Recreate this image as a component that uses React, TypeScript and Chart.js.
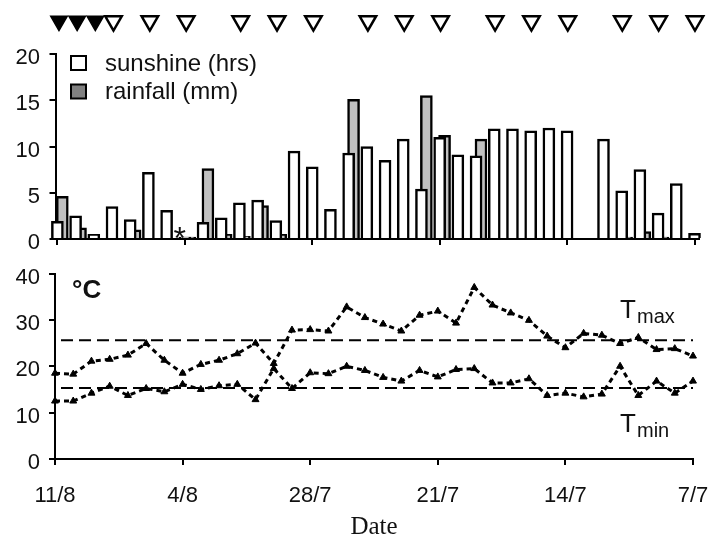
import { useEffect, useRef } from 'react';
import { Chart, registerables } from 'chart.js';

Chart.register(...registerables);

const SANS = '"Liberation Sans", Arial, sans-serif';
const SERIF = '"Liberation Serif", "Times New Roman", serif';

const DATES = [
  '11/8', '10/8', '9/8', '8/8', '7/8', '6/8', '5/8', '4/8', '3/8', '2/8', '1/8',
  '31/7', '30/7', '29/7', '28/7', '27/7', '26/7', '25/7', '24/7', '23/7', '22/7',
  '21/7', '20/7', '19/7', '18/7', '17/7', '16/7', '15/7', '14/7', '13/7', '12/7',
  '11/7', '10/7', '9/7', '8/7', '7/7',
];

const SUNSHINE = [
  1.9, 2.5, 0.5, 3.5, 2.1, 7.2, 3.1, 0.2, 1.8, 2.3, 3.9, 4.2,
  2.0, 9.5, 7.8, 3.2, 9.3, 10.0, 8.5, 10.8, 5.4, 11.0, 9.1, 9.0,
  11.9, 11.9, 11.7, 12.0, 11.7, 0, 10.8, 5.2, 7.5, 2.8, 6.0, 0.6,
];

const RAINFALL = [
  4.6, 1.2, 0, 0, 1.0, 0, 0, 0.2, 7.6, 0.5, 0.3, 3.6,
  0.5, 0, 0, 0, 15.1, 0, 0, 0, 15.5, 11.2, 0, 10.8,
  0, 0, 0, 0, 0, 0, 0, 0.2, 0.8, 0.2, 0, 0,
];

const TMAX = [
  18.5, 18.3, 21.1, 21.5, 22.4, 24.9, 21.3, 18.5, 20.4, 21.3, 22.7, 25.0,
  20.6, 27.8, 27.9, 27.6, 32.8, 30.5, 29.1, 27.6, 31.0, 31.9, 29.3, 37.0,
  33.2, 31.5, 29.9, 26.5, 24.0, 27.1, 26.7, 24.9, 26.2, 23.6, 23.8, 22.2,
];

const TMIN = [
  12.5, 12.5, 14.2, 15.7, 13.7, 15.2, 14.5, 16.1, 15.0, 15.8, 16.1, 12.8,
  19.5, 15.2, 18.6, 18.4, 20.0, 19.1, 17.6, 16.8, 19.1, 17.7, 19.3, 19.5,
  16.4, 16.4, 17.3, 13.7, 14.2, 13.4, 14.0, 20.0, 13.7, 16.8, 14.2, 16.8,
];

const TMAX_MEAN = 25.6;
const TMIN_MEAN = 15.3;

const FILLED_MARK_DAYS = [0, 1, 2];
const OPEN_MARK_DAYS = [3, 5, 7, 10, 12, 14, 17, 19, 21, 24, 26, 28, 31, 33, 35];

const TICK_DAYS = [0, 7, 14, 21, 28, 35];
const SUN_TICKS = [0, 5, 10, 15, 20];
const TEMP_TICKS = [0, 10, 20, 30, 40];
const MISSING_SUN_DAY = 7;

const SUN_LABEL = 'sunshine (hrs)';
const RAIN_LABEL = 'rainfall (mm)';

const axisGrid = {
  drawOnChartArea: false,
  drawTicks: true,
  tickLength: 6,
  color: '#000',
  lineWidth: 2,
};
const axisBorder = { display: true, color: '#000', width: 2 };

const topAnnotations = {
  id: 'topAnnotations',
  afterDraw(chart: any) {
    const ctx = chart.ctx as CanvasRenderingContext2D;
    ctx.save();
    const items = [
      { label: SUN_LABEL, fill: '#ffffff', top: 56 },
      { label: RAIN_LABEL, fill: '#808080', top: 84.5 },
    ];
    ctx.font = `24px ${SANS}`;
    ctx.textBaseline = 'middle';
    ctx.textAlign = 'left';
    for (const it of items) {
      ctx.fillStyle = it.fill;
      ctx.fillRect(71, it.top, 15, 14);
      ctx.strokeStyle = '#000';
      ctx.lineWidth = 2;
      ctx.strokeRect(71, it.top, 15, 14);
      ctx.fillStyle = '#111';
      ctx.fillText(it.label, 105, it.top + 8);
    }
    const x = chart.scales.x.getPixelForValue(MISSING_SUN_DAY);
    const y0 = chart.scales.y.getPixelForValue(0);
    ctx.font = `32px ${SANS}`;
    ctx.textAlign = 'center';
    ctx.textBaseline = 'alphabetic';
    ctx.fillText('*', x - 5, y0 + 10);
    ctx.restore();
  },
};

const bottomAnnotations = {
  id: 'bottomAnnotations',
  afterDraw(chart: any) {
    const ctx = chart.ctx as CanvasRenderingContext2D;
    ctx.save();
    ctx.fillStyle = '#111';
    ctx.textAlign = 'left';
    ctx.textBaseline = 'alphabetic';
    ctx.font = `bold 26px ${SANS}`;
    ctx.fillText('°C', 72, 48);
    ctx.font = `26px ${SANS}`;
    ctx.fillText('T', 620, 68);
    ctx.fillText('T', 620, 182);
    ctx.font = `20px ${SANS}`;
    ctx.fillText('max', 637, 73);
    ctx.fillText('min', 637, 187);
    ctx.restore();
  },
};

export default function App() {
  const markRef = useRef<HTMLCanvasElement>(null);
  const topRef = useRef<HTMLCanvasElement>(null);
  const botRef = useRef<HTMLCanvasElement>(null);

  useEffect(() => {
    const charts: Chart[] = [];

    const markerBase = {
      pointStyle: 'triangle',
      pointRotation: 180,
      pointRadius: 9.5,
      pointBorderColor: '#000',
      showLine: false,
      clip: false,
    };

    charts.push(
      new Chart(markRef.current!, {
        type: 'scatter',
        data: {
          datasets: [
            {
              ...markerBase,
              label: 'filled',
              data: FILLED_MARK_DAYS.map((d) => ({ x: d, y: 0 })),
              pointBackgroundColor: '#000',
              pointBorderWidth: 1.5,
            } as any,
            {
              ...markerBase,
              label: 'open',
              data: OPEN_MARK_DAYS.map((d) => ({ x: d, y: 0 })),
              pointBackgroundColor: '#fff',
              pointBorderWidth: 2.5,
            } as any,
          ],
        },
        options: {
          animation: false,
          responsive: false,
          events: [],
          layout: { padding: { left: 59, right: 14, top: 0, bottom: 0 } },
          plugins: { legend: { display: false }, tooltip: { enabled: false } },
          scales: {
            x: { type: 'linear', display: false, min: 0, max: 35 },
            y: { type: 'linear', display: false, min: -1, max: 1 },
          },
        },
      })
    );

    const barBase = {
      borderColor: '#000',
      borderWidth: 2.5,
      barThickness: 12,
      grouped: false,
      clip: false,
    };

    charts.push(
      new Chart(topRef.current!, {
        type: 'bar',
        data: {
          datasets: [
            {
              ...barBase,
              label: SUN_LABEL,
              data: SUNSHINE.map((v, i) => ({ x: i, y: v })),
              xAxisID: 'x',
              backgroundColor: '#ffffff',
            } as any,
            {
              ...barBase,
              label: RAIN_LABEL,
              data: RAINFALL.map((v, i) => ({ x: i, y: v })),
              xAxisID: 'x2',
              backgroundColor: '#c0c0c0',
            } as any,
          ],
        },
        options: {
          animation: false,
          responsive: false,
          events: [],
          layout: { padding: { left: 0, right: 10, top: 54, bottom: 0 } },
          plugins: { legend: { display: false }, tooltip: { enabled: false } },
          scales: {
            x: {
              type: 'linear',
              offset: false,
              min: -0.104,
              max: 35.247,
              z: 1,
              afterBuildTicks: (s: any) => {
                s.ticks = TICK_DAYS.map((v) => ({ value: v }));
              },
              afterFit: (s: any) => {
                s.height = 11;
                s.paddingLeft = 0;
                s.paddingRight = 0;
              },
              ticks: { display: false },
              grid: { ...axisGrid, offset: false },
              border: axisBorder,
            },
            x2: {
              type: 'linear',
              offset: false,
              display: false,
              min: -0.374,
              max: 34.977,
            },
            y: {
              type: 'linear',
              min: 0,
              max: 20,
              z: 1,
              afterBuildTicks: (s: any) => {
                s.ticks = SUN_TICKS.map((v) => ({ value: v }));
              },
              afterFit: (s: any) => {
                s.width = 55.5;
                s.paddingTop = 0;
                s.paddingBottom = 0;
              },
              ticks: {
                font: { family: SANS, size: 22 },
                color: '#111',
                padding: 9.5,
                labelOffset: 4,
              },
              grid: axisGrid,
              border: axisBorder,
            },
          },
        } as any,
        plugins: [topAnnotations],
      })
    );

    const tempLine = {
      borderColor: '#000',
      borderWidth: 3,
      borderDash: [5, 4],
      pointStyle: 'triangle',
      pointRadius: 4,
      pointBackgroundColor: '#000',
      pointBorderColor: '#000',
      pointBorderWidth: 1,
      tension: 0,
      fill: false,
      clip: false,
    };
    const meanLine = {
      borderColor: '#000',
      borderWidth: 2,
      borderDash: [12, 6],
      borderDashOffset: 12,
      pointRadius: 0,
      tension: 0,
      fill: false,
    };

    charts.push(
      new Chart(botRef.current!, {
        type: 'line',
        data: {
          datasets: [
            { ...tempLine, label: 'Tmax', data: TMAX.map((v, i) => ({ x: i, y: v })) } as any,
            { ...tempLine, label: 'Tmin', data: TMIN.map((v, i) => ({ x: i, y: v })) } as any,
            {
              ...meanLine,
              label: 'Tmax mean',
              data: [
                { x: TICK_DAYS[0], y: TMAX_MEAN },
                { x: TICK_DAYS[TICK_DAYS.length - 1], y: TMAX_MEAN },
              ],
            } as any,
            {
              ...meanLine,
              label: 'Tmin mean',
              data: [
                { x: TICK_DAYS[0], y: TMIN_MEAN },
                { x: TICK_DAYS[TICK_DAYS.length - 1], y: TMIN_MEAN },
              ],
            } as any,
          ],
        },
        options: {
          animation: false,
          responsive: false,
          events: [],
          layout: { padding: { left: 0, right: 16, top: 23.5, bottom: 0 } },
          plugins: { legend: { display: false }, tooltip: { enabled: false } },
          scales: {
            x: {
              type: 'linear',
              min: 0,
              max: 35,
              z: 1,
              afterBuildTicks: (s: any) => {
                s.ticks = TICK_DAYS.map((v) => ({ value: v }));
              },
              afterFit: (s: any) => {
                s.height = 83;
                s.paddingLeft = 0;
                s.paddingRight = 0;
              },
              ticks: {
                font: { family: SANS, size: 22 },
                color: '#111',
                padding: 18,
                maxRotation: 0,
                autoSkip: false,
                callback: (v: any) => DATES[v],
              },
              grid: axisGrid,
              border: axisBorder,
              title: {
                display: true,
                text: 'Date',
                font: { family: SERIF, size: 25 },
                color: '#111',
                padding: { top: 0, bottom: 0 },
              },
            },
            y: {
              type: 'linear',
              min: 0,
              max: 40,
              z: 1,
              afterBuildTicks: (s: any) => {
                s.ticks = TEMP_TICKS.map((v) => ({ value: v }));
              },
              afterFit: (s: any) => {
                s.width = 55;
                s.paddingTop = 0;
                s.paddingBottom = 0;
              },
              ticks: {
                font: { family: SANS, size: 22 },
                color: '#111',
                padding: 9,
                labelOffset: 4,
              },
              grid: axisGrid,
              border: axisBorder,
            },
          },
        } as any,
        plugins: [bottomAnnotations],
      })
    );

    return () => {
      charts.forEach((c) => c.destroy());
    };
  }, []);

  return (
    <div style={{ position: 'absolute', left: 0, top: 0, width: 709, height: 542, background: '#fff' }}>
      <canvas ref={topRef} width={709} height={250} style={{ position: 'absolute', left: 0, top: 0 }} />
      <canvas ref={botRef} width={709} height={292} style={{ position: 'absolute', left: 0, top: 250 }} />
      <canvas ref={markRef} width={709} height={42} style={{ position: 'absolute', left: 0, top: 0 }} />
    </div>
  );
}
